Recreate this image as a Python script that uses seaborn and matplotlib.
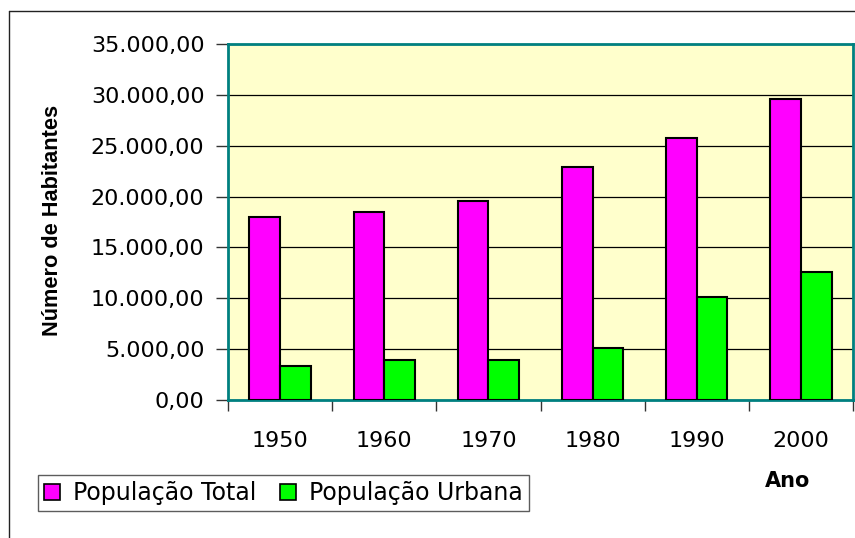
import matplotlib
matplotlib.use("Agg")
import matplotlib.pyplot as plt
from matplotlib.lines import Line2D
from matplotlib.patches import Patch
from matplotlib.ticker import FuncFormatter
import pandas as pd
import seaborn as sns

anos = ['1950', '1960', '1970', '1980', '1990', '2000']
pop_total = [18000, 18500, 19600, 22900, 25800, 29600]
pop_urbana = [3300, 3900, 3900, 5100, 10100, 12600]
series = ['População Total', 'População Urbana']
cores = ['#FF00FF', '#00FF00']

df = pd.DataFrame({
    'Ano': anos * 2,
    'valor': pop_total + pop_urbana,
    'serie': [series[0]] * len(anos) + [series[1]] * len(anos),
})

sns.set_style('white')
plt.rcParams['font.family'] = ['DejaVu Sans']
plt.rcParams['text.color'] = 'black'
plt.rcParams['xtick.color'] = 'black'
plt.rcParams['ytick.color'] = 'black'

fig = plt.figure(figsize=(8.55, 5.38), dpi=100)
ax = fig.add_axes([228 / 855, 1 - 400 / 538, 625 / 855, 356 / 538])
ax.set_facecolor('#FFFFCC')

sns.barplot(data=df, x='Ano', y='valor', hue='serie', palette=cores,
            width=0.59, edgecolor='black', linewidth=1.5, saturation=1,
            legend=False, ax=ax, zorder=3)

ax.set_ylim(0, 35000)
ax.set_xlim(-0.5, len(anos) - 0.5)
ax.set_yticks(range(0, 35001, 5000))
ax.yaxis.set_major_formatter(FuncFormatter(
    lambda v, p: f'{v:,.2f}'.replace(',', 'X').replace('.', ',').replace('X', '.')))
ax.grid(axis='y', color='black', linewidth=0.9, zorder=1)
ax.set_axisbelow(True)

# marcas do eixo x entre as categorias
ax.set_xticks([i - 0.5 for i in range(len(anos) + 1)], minor=True)
ax.tick_params(axis='x', which='minor', bottom=True, length=8, width=1,
               color='#333333', direction='out')
ax.tick_params(axis='x', which='major', bottom=True, length=0, pad=22, labelsize=16)
ax.tick_params(axis='y', left=True, length=9, width=1, color='#333333',
               direction='out', pad=8, labelsize=16)

for s in ax.spines.values():
    s.set_color('#008080')
    s.set_linewidth(2)

ax.set_xlabel('')
ax.set_ylabel('')
fig.text(52 / 855, 1 - 220 / 538, 'Número de Habitantes', rotation=90, fontsize=15.7,
         fontweight='bold', family='Liberation Sans', ha='center', va='center')
fig.text(788 / 855, 1 - 481 / 538, 'Ano', fontsize=15, fontweight='bold',
         ha='center', va='center')

# borda externa do gráfico
fig.add_artist(Line2D([9 / 855, 9 / 855], [0, 1 - 11 / 538], color='#222222', lw=1))
fig.add_artist(Line2D([9 / 855, 1], [1 - 11 / 538, 1 - 11 / 538], color='#222222', lw=1))

handles = [Patch(facecolor=c, edgecolor='black', linewidth=1.2) for c in cores]
leg = fig.legend(handles, series, loc='lower left', bbox_to_anchor=(38 / 855, 27 / 538),
                 ncol=2, fontsize=17, frameon=True, fancybox=False, edgecolor='#333333',
                 handlelength=0.68, handleheight=0.68, handletextpad=0.55, columnspacing=1.0,
                 borderpad=0.25, borderaxespad=0)
leg.get_frame().set_linewidth(1)

fig.savefig('out.png', dpi=100)
